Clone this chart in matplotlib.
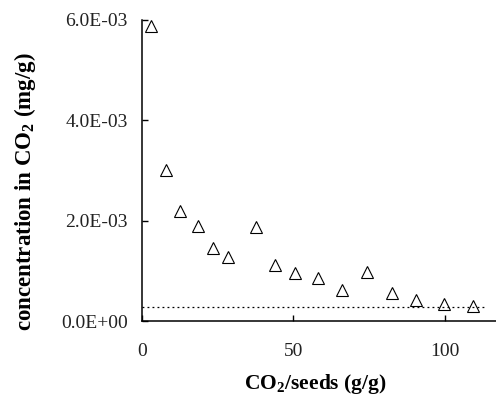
import matplotlib
matplotlib.use("Agg")
import matplotlib.pyplot as plt
from matplotlib.ticker import FuncFormatter

plt.rcParams['font.family'] = ['Liberation Serif', 'DejaVu Serif']
plt.rcParams['mathtext.fontset'] = 'custom'
plt.rcParams['mathtext.rm'] = 'Liberation Serif'
plt.rcParams['mathtext.bf'] = 'Liberation Serif:bold'

# CO2/seeds ratio vs. residual concentration in CO2
ratio = [3.1, 7.9, 12.7, 18.4, 23.5, 28.6, 37.7, 44.0, 50.5, 58.1, 66.1, 74.3, 82.8, 90.6, 99.7, 109.3]
conc = [5.88e-3, 3.01e-3, 2.19e-3, 1.89e-3, 1.45e-3, 1.27e-3, 1.88e-3, 1.12e-3,
        0.95e-3, 0.85e-3, 0.62e-3, 0.98e-3, 0.57e-3, 0.42e-3, 0.34e-3, 0.31e-3]
limit = 0.285e-3
limit_end = 113

fig = plt.figure(figsize=(4.96, 3.97), dpi=100)
ax = fig.add_axes([0.286, 0.191, 0.714, 0.759])

ax.plot(ratio, conc, linestyle='none', marker='^', markersize=9,
        markerfacecolor='white', markeredgecolor='black', markeredgewidth=0.8, clip_on=False)
ax.hlines(limit, 0, limit_end, colors='black', linewidth=0.9, linestyles=(0, (1.5, 2.5)))

ax.set_xlim(0, 117)
ax.set_ylim(0, 6e-3)
ax.set_xticks([0, 50, 100])
ax.set_yticks([0, 2e-3, 4e-3, 6e-3])
ax.yaxis.set_major_formatter(FuncFormatter(lambda v, p: '%.1E' % v))

for s in ['top', 'right']:
    ax.spines[s].set_visible(False)
for s in ['left', 'bottom']:
    ax.spines[s].set_linewidth(1.1)

ax.tick_params(axis='x', direction='in', length=4, width=1, pad=16, labelsize=14, labelcolor='#222222')
ax.tick_params(axis='y', direction='in', length=4, width=1, pad=10, labelsize=14, labelcolor='#222222')

ax.set_ylabel('concentration in CO$_\\mathbf{2}$ (mg/g)', fontsize=16.5, fontweight='bold', va='center')
ax.yaxis.set_label_coords(-0.33, 0.43)
ax.set_xlabel('CO$_\\mathbf{2}$/seeds (g/g)', fontsize=15.5, fontweight='bold')
ax.xaxis.set_label_coords(0.49, -0.168)

fig.savefig('out.png', dpi=100)
